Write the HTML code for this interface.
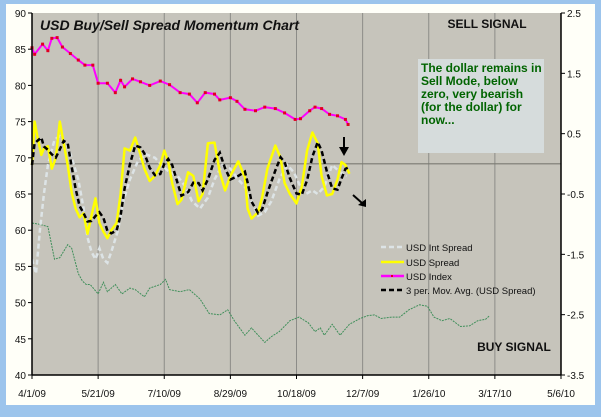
<!DOCTYPE html>
<html><head><meta charset="utf-8"><style>
html,body{margin:0;padding:0;background:#9cc4ec;}
body{width:601px;height:412px;overflow:hidden;position:relative;font-family:"Liberation Sans",Arial,sans-serif;}
</style></head><body>
<svg id="chart" width="601" height="412" xmlns="http://www.w3.org/2000/svg">
<rect x="6" y="4" width="589" height="401" fill="#fffff8"/>
<rect x="32" y="13" width="529" height="362" fill="#c6c4bb"/>
<g id="grid"></g>
<g id="series"></g>
<g id="axes"></g>
<text x="40" y="30" font-size="14" font-weight="bold" font-style="italic" fill="#111">USD Buy/Sell Spread Momentum Chart</text>
<text x="487" y="28" font-size="12" font-weight="bold" text-anchor="middle" fill="#111">SELL SIGNAL</text>
<text x="514" y="351" font-size="12" font-weight="bold" text-anchor="middle" fill="#111">BUY SIGNAL</text>
<g>
<rect x="418" y="59" width="126" height="94" fill="#d6dcdc"/>
<text font-size="12" font-weight="bold" fill="#006400">
<tspan x="421" y="72">The dollar remains in</tspan>
<tspan x="421" y="85">Sell Mode, below</tspan>
<tspan x="421" y="98">zero, very bearish</tspan>
<tspan x="421" y="111">(for the dollar) for</tspan>
<tspan x="421" y="124">now...</tspan>
</text></g>
<g>
<line x1="344" y1="137" x2="344" y2="150" stroke="#000" stroke-width="2"/>
<polygon points="339,147 349,147 344,156" fill="#000"/></g>
<g>
<line x1="353" y1="195" x2="362" y2="203" stroke="#000" stroke-width="2"/>
<polygon points="358,205 366,199 366,207" fill="#000"/></g>
<g>
<line x1="381" y1="247" x2="404" y2="247" stroke="#dde4e6" stroke-width="2.5" stroke-dasharray="5,3"/>
<text x="406" y="251" font-size="9.5" fill="#111">USD Int Spread</text>
<line x1="381" y1="262" x2="404" y2="262" stroke="#ffff00" stroke-width="2.5"/>
<text x="406" y="266" font-size="9.5" fill="#111">USD Spread</text>
<line x1="381" y1="276" x2="404" y2="276" stroke="#ff00ff" stroke-width="2.5"/>
<rect x="391" y="275" width="2" height="2" fill="#e00020"/>
<text x="406" y="280" font-size="9.5" fill="#111">USD Index</text>
<line x1="381" y1="290" x2="404" y2="290" stroke="#000" stroke-width="2.5" stroke-dasharray="5,3"/>
<text x="406" y="294" font-size="9.5" fill="#111">3 per. Mov. Avg. (USD Spread)</text>
</g>
</svg>
<script>
// categories / ticks
const xTickLabels=["4/1/09","5/21/09","7/10/09","8/29/09","10/18/09","12/7/09","1/26/10","3/17/10","5/6/10"];
const leftTicks=[90,85,80,75,70,65,60,55,50,45,40];
const rightTicks=["2.5","1.5","0.5","-0.5","-1.5","-2.5","-3.5"];
// series: day offsets from 4/1/09 and values (left-axis units)
const indexDays=[0,2,8,12,15,19,23,29,35,40,46,50,57,63,67,70,76,82,89,97,104,112,119,125,131,138,142,150,155,161,169,176,184,191,199,203,210,214,219,225,231,237,239];
const indexVals=[85.2,84.3,85.7,84.8,86.5,86.6,85.3,84.4,83.5,82.8,82.8,80.3,80.3,79,80.7,79.8,80.9,80.5,80,80.6,80.1,79,78.8,77.6,79,78.8,78,78.3,77.8,76.7,76.5,77,76.8,76.2,75.3,75.4,76.5,77,76.8,76,75.8,75.3,74.6];
const spreadDays=[0,2,4,7,9,12,15,18,21,24,27,30,33,36,39,42,45,48,51,54,57,60,64,67,70,74,78,82,85,89,93,97,100,103,106,110,113,118,122,126,129,133,138,142,146,150,156,161,163,166,171,174,178,184,188,191,195,200,204,208,212,216,219,223,227,231,234,237,240];
const spreadVals=[69,75,73,70.4,71.3,71.6,68.5,70,75,72,69,65.2,63,61.8,62.3,59.5,62,64.4,61,59.8,58.9,60,61,65,71.3,71,72.8,70.5,68.5,66.8,67.5,69,71,69.5,66.5,63.6,64.2,68,67.5,64,65,72,72.1,68,65.5,67.5,69.5,67.3,63,61.6,62.5,64.5,68.5,71.7,70,66.5,65,63.7,66,71,73.5,72,67.5,64.8,65,67,69.4,69,67.8];
const intDays=[0,3,6,9,12,17,21,26,30,35,39,42,45,48,51,54,57,60,65,69,74,80,86,93,98,104,110,116,121,127,133,138,144,150,156,161,166,171,176,181,187,193,198,203,207,212,216,221,227,233,238];
const intVals=[56,54,60,65,69,72.5,73,72,70,67,63,59,57,56,57.5,56,55.5,57,60,64,67,69.5,70.5,70,69,68,67.5,66,64,63,64.5,67,69,68.5,67,66,64,62,62.5,64,67,69,68,66,65,65.5,65,66,69,68,67.5];
const greenDays=[0,6,12,17,21,27,30,35,38,41,44,50,54,57,63,68,74,78,85,89,97,101,104,112,119,127,134,142,148,153,161,166,171,176,181,187,195,202,209,214,218,221,227,233,240,248,254,259,264,272,278,285,293,299,304,310,316,324,331,337,343,346];
const greenVals=[61,60.8,60.5,56,56.2,58,57.5,54,53,52.5,52.5,51.2,52.8,51.5,52.5,51.2,52,51.8,50.8,52,52.5,53.2,51.8,51.5,51.8,50.5,48.5,48.3,49,47.5,45.5,46.5,45.5,44.5,45.3,46,47.5,48,47.2,46,46.5,45.5,47,45.5,47,47.8,48.2,48.3,47.8,48,48,49,49.7,49.5,48,47.5,47.8,46.7,46.8,47.5,47.7,48.2];

const NS="http://www.w3.org/2000/svg";
const X0=32,X1=561,Y0=13,Y1=375;
const xs=d=>X0+d*(X1-X0)/400;
const ys=v=>Y0+(90-v)*(Y1-Y0)/50;
const yr=r=>Y0+(2.5-r)*(Y1-Y0)/6;
function mk(tag,attrs,parent){const e=document.createElementNS(NS,tag);for(const k in attrs)e.setAttribute(k,attrs[k]);parent.appendChild(e);return e;}
const grid=document.getElementById('grid'),axes=document.getElementById('axes'),ser=document.getElementById('series');
for(let i=1;i<8;i++){const g=mk('line',{x1:xs(i*50),x2:xs(i*50),y1:Y0,y2:Y1,stroke:'#8c8c88','stroke-width':1},grid);

}
const zl=mk('line',{x1:X0,x2:X1,y1:yr(0),y2:yr(0),stroke:'#7a7a72','stroke-width':1.2},grid);


const la=mk('line',{x1:X0,x2:X0,y1:Y0,y2:Y1,stroke:'#000','stroke-width':1.5},axes);


const ra=mk('line',{x1:X1,x2:X1,y1:Y0,y2:Y1,stroke:'#000','stroke-width':1.5},axes);


const ba=mk('line',{x1:X0,x2:X1,y1:Y1,y2:Y1,stroke:'#000','stroke-width':1.5},axes);


leftTicks.forEach(v=>{mk('line',{x1:X0-4,x2:X0,y1:ys(v),y2:ys(v),stroke:'#000'},axes);
const t=mk('text',{x:X0-6,y:ys(v)+4,'font-size':10,'text-anchor':'end',fill:'#111'},axes);t.textContent=v;

});
rightTicks.forEach(s=>{const y=yr(parseFloat(s));mk('line',{x1:X1,x2:X1+4,y1:y,y2:y,stroke:'#000'},axes);
const t=mk('text',{x:X1+6,y:y+4,'font-size':10,fill:'#111'},axes);t.textContent=s;

});
xTickLabels.forEach((s,i)=>{const x=xs(i*50);mk('line',{x1:x,x2:x,y1:Y1,y2:Y1+4,stroke:'#000'},axes);
const t=mk('text',{x:x,y:397,'font-size':10,'text-anchor':'middle',fill:'#111'},axes);t.textContent=s;

});
function pts(d,v){return d.map((dd,i)=>xs(dd).toFixed(1)+','+ys(v[i]).toFixed(1)).join(' ');}
const gl=mk('polyline',{points:pts(greenDays,greenVals),fill:'none',stroke:'#3f8f5a','stroke-width':1,'stroke-dasharray':'2,1'},ser);


const il=mk('polyline',{points:pts(intDays,intVals),fill:'none',stroke:'#dde4e6','stroke-width':2.5,'stroke-dasharray':'5,3'},ser);


const sl=mk('polyline',{points:pts(spreadDays,spreadVals),fill:'none',stroke:'#ffff00','stroke-width':2.5,'stroke-linejoin':'round'},ser);


const maVals=spreadVals.map((v,i)=>{const a=spreadVals.slice(Math.max(0,i-2),i+1);return a.reduce((s,x)=>s+x,0)/a.length;});
const ml=mk('polyline',{points:pts(spreadDays,maVals),fill:'none',stroke:'#000','stroke-width':2.5,'stroke-dasharray':'5,3'},ser);


const xl=mk('polyline',{points:pts(indexDays,indexVals),fill:'none',stroke:'#ff00ff','stroke-width':2},ser);


indexDays.forEach((d,i)=>{const r=mk('rect',{x:xs(d)-1.5,y:ys(indexVals[i])-1.5,width:3,height:3,fill:'#e00020'},ser);

});
</script>
</body></html>
